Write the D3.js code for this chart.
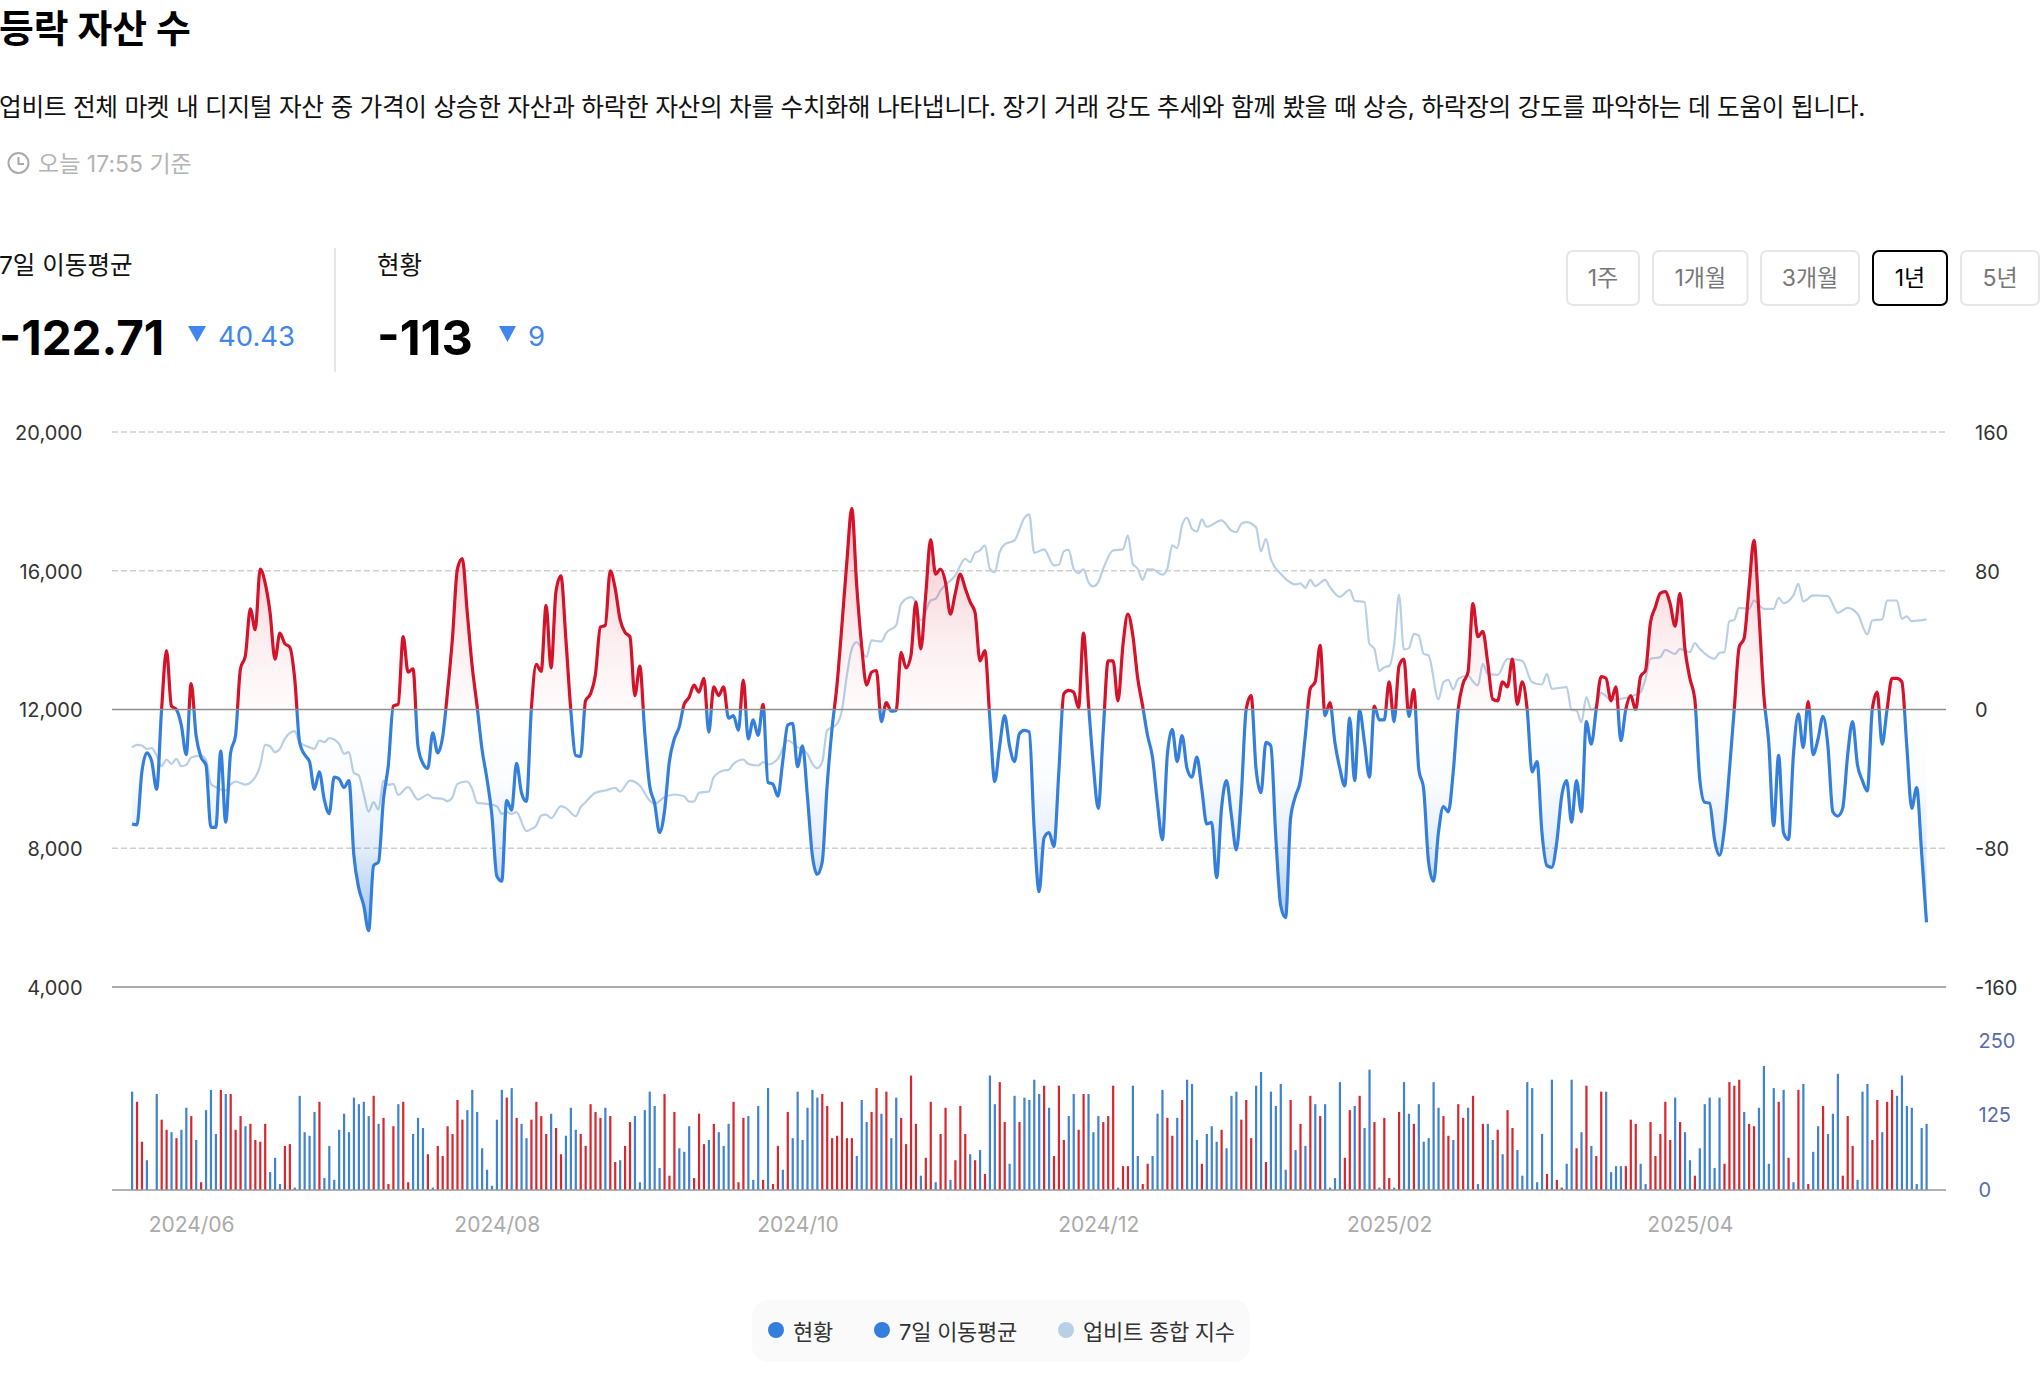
<!DOCTYPE html>
<html lang="ko">
<head>
<meta charset="utf-8">
<script src="https://cdn.jsdelivr.net/npm/d3@7"></script>
<style>
  html, body { margin: 0; padding: 0; background: #fff; }
  svg { display: block; }
  text { font-family: Inter, "Noto Sans CJK KR", sans-serif; }
  .domain { display: none; }
</style>
</head>
<body>
<div id="chart"></div>
<script>
// 7일 이동평균, one value per day
var maValues = [
-66,-66.5,-36,-25,-30,-46,0,34,2,0,-9,-26,15,-15,-27.5,-32,-68,-68,-24,-65,
-25,-15,23.5,31,58,46,81,73,56,29,44,38,36,18,-19,-26,-30,-46,-36,-52,
-60,-39,-40,-45,-41,-84,-103,-113,-127.5,-90,-88,-52,-32,2,3,42,21.5,23.5,-21,-31,
-34,-13.5,-25,-16,10,41,81,87,56,25,2,-23,-40,-61,-96,-99,-52.5,-58,-31,-48,
-53,0,26,22,60,24,68,77,41,0,-26.5,-27,5,9,20,47.5,48.5,80,70,52,
44.5,42,8,25,-13,-44,-54,-71,-59,-30,-17,-10,3,7,14,10,18,-13,13,8,
13,-5,-3.5,-12,17,-17,-6,-15,3,-42,-43,-50,-30,-9,-8,-33,-21,-50,-84,-95,
-88,-44,-11,14,48.5,85,116,71.5,37,14,21.5,22.5,-7,4,-1,-0.5,33,24,31,62,
35,66,98,78,81,73.5,55,67,78,70,62,56,28,34,-5,-41.5,-21,-3.5,-21,-30,
-14,-12,-13,-69,-105,-74,-71,-79,-36,9,11,10,1,44,4,-32,-57,-13,28,28,
5,37,55,43,18,2,-15,-27.5,-54,-75,-26.5,-11.5,-30,-15,-34,-39,-27.5,-46,-66,-65,
-97,-57,-41,-61,-81,-50,0,8,-34,-48,-19,-21,-73,-113,-120,-63,-50,-41,-15,12,
16,37,-3.5,4,-19,-34,-44,-5,-41,-0.5,-19,-39,2,-6,-6,16,-7,25,29,-4,
11.5,-34,-46,-88,-99,-71,-56,-59,-36,0,15,21.5,61,42,45,27,6,5,16,13,
29,3,16,0,-36,-30,-71,-90,-91,-76.5,-50,-41,-65,-41,-59,-7,-20,0,19,18,
5,13,-18,0,8,0,19,22.5,50,59,67,68,61,48,67,35,18,6,-40,-53.5,
-54,-75,-84,-69,-36,0,36,41,70,97.5,56,8,-19,-67,-26.5,-71,-75,-26.5,-2.5,-22,
4.6,-26,-17,-4,-21,-59,-61.5,-57,-26.5,-7,-32,-41,-47,0,10,-20,0,18,18,16,
-21,-57,-45,-82.28,-122.71
];

// 업비트 종합 지수, read at the turning points of the line
var indexDays = [
0,1,2,3,4,5,6,7,8,9,10,11,12,14,15,16,17,19,20,21,23,25,26,27,28,29,30,31,33,34,36,37,38,39,40,42,43,44,45,46,47,48,49,50,51,52,53,54,56,58,60,61,63,64,65,66,68,69,70,72,74,75,76,77,78,80,81,82,83,84,85,87,88,90,91,92,94,
96,98,99,101,103,105,106,108,110,112,113,114,115,117,118,120,121,122,124,125,127,128,129,131,133,135,137,138,139,140,141,143,144,145,146,147,149,150,152,153,155,156,158,159,160,162,163,164,167,169,170,171,172,173,174,175,176,177,179,181,182,183,185,187,188,189,190,191,192,
193,194,195,196,197,199,201,202,203,204,205,206,207,209,210,211,212,213,214,215,216,217,218,221,223,224,225,226,228,229,230,231,233,234,236,237,238,239,240,242,243,245,247,248,250,251,252,253,254,255,256,257,258,259,260,261,262,263,265,266,267,268,269,271,272,273,274,275,277,279,282,284,286,
287,288,291,292,293,294,295,296,297,298,300,302,305,306,307,308,310,311,313,314,316,317,318,321,322,323,324,325,326,328,329,331,333,334,335,337,338,339,341,344,346,348,350,352,353,355,356,358,359,360,361,364
];
var indexValues = [
10904,10981,10962,10866,10885,10673,10366,10558,10433,10577,10366,10404,10616,10673,10548,9856,9760,9664,9837,9924,9837,10049,10385,10981,10943,10770,10866,11154,11375,11058,10914,10866,11106,11058,11173,11010,10721,10770,10174,10097,9568,9058,9328,9116,9952,9827,9856,9539,9760,9404,9549,9453,9424,9356,9472,9856,9924,9712,9308,9279,9212,8991,9039,8991,9039,8491,8559,8655,8943,8972,8866,9212,9164,8924,9183,9328,9597,
9664,9741,9635,9952,9808,9376,9279,9472,9549,9501,9347,9347,9597,9635,10049,10241,10260,10433,10558,10433,10385,10481,10414,10577,11106,10914,10721,10433,10308,10481,11394,11587,11971,12981,13750,13942,13509,13990,13961,14211,14423,15047,15240,15076,14567,15143,15192,15432,15864,16345,16249,16518,16585,16730,16057,15961,16537,16758,16874,17518,17624,16518,16614,16153,16172,16557,16605,16057,15932,
16037,15672,15547,15672,16057,16585,16614,17018,16201,16057,15739,16037,16037,15884,16057,16730,16653,17306,17528,17210,17133,17479,17268,17451,17162,17114,17354,17403,17258,16557,16922,16345,15912,15768,15605,15634,15509,15739,15557,15739,15528,15249,15451,15134,15096,13894,13750,13105,13221,13250,13846,15307,13730,13769,14182,14134,13605,13557,12288,12788,12856,12577,12884,12980,12807,12692,13317,13029,13000,13461,13403,12788,12721,
13029,12596,12644,11990,11971,11635,12356,11990,12115,12481,12288,12308,12423,12500,12884,13461,13509,13721,13605,13750,13653,13913,13750,13461,13634,13653,14538,14586,14932,14903,15143,14903,14903,15220,15066,15288,15624,15114,15288,15268,14788,14932,14759,14163,14567,14596,15143,15143,14615,14682,14548,14596
];

// 거래량 막대: positive drawn red, negative drawn blue
var barValues = [
-165,148,81,-50,0,-161,118,101,-97,87,-101,-138,124,-84,13,-134,-168,-94,168,-161,
161,101,124,-107,111,84,81,111,-30,-54,-10,74,77,-4,-158,-97,-91,-131,148,-20,
-74,-17,-101,-128,-97,-155,-144,-148,-124,158,-111,121,10,107,-144,148,13,-94,-121,-104,
60,-4,74,57,107,94,151,118,-134,-168,-131,-70,-34,-7,-118,-168,155,-171,121,-111,
-87,118,148,124,94,-128,104,60,-91,-138,-101,94,74,144,131,121,-138,124,47,-50,
74,114,-124,-13,-134,-165,-141,-37,161,24,131,-70,-64,-107,20,128,77,-84,111,-97,
-74,-111,148,13,121,-124,-17,-141,17,-171,10,74,-34,131,-87,-165,-84,-138,-168,-155,
161,141,87,91,148,87,87,-57,-151,-114,131,171,-128,165,-87,-155,121,77,192,111,
-24,54,148,-13,94,138,-17,50,141,94,-60,50,-67,27,-192,-144,181,114,-44,-158,
114,-155,-151,-185,-161,175,-138,57,175,84,-124,-161,101,161,-161,-97,-124,114,124,175,
-4,40,40,-175,-57,10,44,-57,-128,-168,121,91,-121,151,-185,-178,-84,44,-94,-107,
-81,101,-70,-158,-165,118,151,87,-175,-198,47,-165,-141,-178,-34,151,-67,111,-74,158,
-144,124,-144,-4,-20,-181,54,134,-141,158,-104,-202,114,-4,
121,20,-4,131,-181,-128,111,-144,-81,-87,-181,-138,124,91,-84,144,121,-138,158,-10,
111,-111,-84,101,-60,134,104,-67,-24,-181,-171,-13,-94,27,-185,17,4,-44,-185,70,
-97,175,-74,57,165,-165,-30,-40,-40,40,118,111,-44,-10,114,57,94,148,84,-155,
114,-97,-50,24,-70,-144,-155,-37,-155,44,181,175,185,-131,111,107,-138,-208,-44,-171,
148,-168,54,-13,168,-178,10,-64,-107,141,-94,-128,-195,24,124,74,-17,-165,-178,84,
151,-97,148,168,-158,-192,-141,-138,-10,-104,-111
];

var leftTicks = [4000, 8000, 12000, 16000, 20000];
var rightTicks = [-160, -80, 0, 80, 160];
var barTicks = [0, 125, 250];
var dayTicks = [12, 74, 135, 196, 255, 316];
var dayLabels = ["2024/06", "2024/08", "2024/10", "2024/12", "2025/02", "2025/04"];
var periods = ["1주", "1개월", "3개월", "1년", "5년"];
var activePeriod = "1년";
var legendLabels = ["현황", "7일 이동평균", "업비트 종합 지수"];

var RED = "#d4122a", BLUE = "#357fdc", PALE = "#b9cfe5";

var svg = d3.select("#chart").append("svg").attr("width", 2040).attr("height", 1392);

var x = d3.scaleLinear().domain([0, 364]).range([132, 1926.5]);
var yLeft = d3.scaleLinear().domain([4000, 20000]).range([987, 432]);
var yRight = d3.scaleLinear().domain([-160, 160]).range([987, 432]);
var yBar = d3.scaleLinear().domain([0, 250]).range([1190, 1041]);

function label(sel, px, py, str, size, color, weight, anchor) {
  return sel.append("text").attr("x", px).attr("y", py).attr("dy", "0.35em")
    .attr("font-size", size).attr("fill", color).attr("font-weight", weight || 400)
    .attr("text-anchor", anchor || "start").text(str);
}

// header
label(svg, -1, 28.5, "등락 자산 수", 37.8, "#000", 700);
label(svg, -1, 107, "업비트 전체 마켓 내 디지털 자산 중 가격이 상승한 자산과 하락한 자산의 차를 수치화해 나타냅니다. 장기 거래 강도 추세와 함께 봤을 때 상승, 하락장의 강도를 파악하는 데 도움이 됩니다.", 24.7, "#111")
  .attr("letter-spacing", -0.29);
svg.append("circle").attr("cx", 18.5).attr("cy", 163).attr("r", 10).attr("fill", "none").attr("stroke", "#aaa").attr("stroke-width", 2);
svg.append("path").attr("d", "M18.5 157V164H24").attr("fill", "none").attr("stroke", "#aaa").attr("stroke-width", 2);
label(svg, 38, 164, "오늘 17:55 기준", 23, "#b4b4b4");

// summary numbers
label(svg, -1, 265, "7일 이동평균", 24.5, "#111");
label(svg, -1, 338, "-122.71", 47.5, "#000", 700);
svg.append("path").attr("d", d3.line()([[188, 326], [206, 326], [197, 342]])).attr("fill", "#3f86ee");
label(svg, 218, 336, "40.43", 27.5, "#3f86ee");
svg.append("line").attr("x1", 335).attr("x2", 335).attr("y1", 248).attr("y2", 372).attr("stroke", "#e3e6ec").attr("stroke-width", 2);
label(svg, 377, 265, "현황", 24.5, "#111");
label(svg, 377, 338, "-113", 48.5, "#000", 700);
svg.append("path").attr("d", d3.line()([[499, 326], [516, 326], [507.5, 342]])).attr("fill", "#3f86ee");
label(svg, 528, 336, "9", 27.5, "#3f86ee");

// period buttons
var buttonX = d3.scaleOrdinal().domain(periods).range([[1567, 72], [1653, 94.5], [1761, 98], [1873, 74], [1961, 78]]);
var buttons = svg.append("g").selectAll("g").data(periods).join("g");
buttons.append("rect")
  .attr("x", d => buttonX(d)[0]).attr("y", 251).attr("width", d => buttonX(d)[1]).attr("height", 54).attr("rx", 6)
  .attr("fill", "#fff").attr("stroke", d => d === activePeriod ? "#000" : "#e6e6e6").attr("stroke-width", 2);
buttons.append("text")
  .attr("x", d => buttonX(d)[0] + buttonX(d)[1] / 2).attr("y", 278).attr("dy", "0.35em").attr("text-anchor", "middle")
  .attr("font-size", 23).attr("fill", d => d === activePeriod ? "#000" : "#777").text(d => d);

// gridlines
svg.append("g").selectAll("line").data(rightTicks.filter(d => d !== 0 && d !== -160)).join("line")
  .attr("x1", 112).attr("x2", 1946).attr("y1", d => yRight(d)).attr("y2", d => yRight(d))
  .attr("stroke", "#cfcfcf").attr("stroke-width", 1.4).attr("stroke-dasharray", "6 3");

// axes
var axisLeft = svg.append("g").attr("transform", "translate(85.5,1)")
  .call(d3.axisLeft(yLeft).tickValues(leftTicks).tickSize(0).tickFormat(d3.format(",")));
var axisRight = svg.append("g").attr("transform", "translate(1972,1)")
  .call(d3.axisRight(yRight).tickValues(rightTicks).tickSize(0).tickFormat(d => String(d)));
var axisBar = svg.append("g").attr("transform", "translate(1975.5,0)")
  .call(d3.axisRight(yBar).tickValues(barTicks).tickSize(0));
var axisX = svg.append("g").attr("transform", "translate(0,1214)")
  .call(d3.axisBottom(x).tickValues(dayTicks).tickSize(0).tickFormat((d, i) => dayLabels[i]));
axisLeft.selectAll("text").attr("font-size", 20).attr("fill", "#333");
axisRight.selectAll("text").attr("font-size", 20).attr("fill", "#333");
axisBar.selectAll("text").attr("font-size", 20).attr("fill", "#5a6bad");
axisX.selectAll("text").attr("font-size", 21).attr("fill", "#aaa");
svg.selectAll(".tick line").remove();

// gradients split at the zero line
var defs = svg.append("defs");
var top_ = yRight(160), bottom_ = yRight(-160);
function offset(v) { return (yRight(v) - top_) / (bottom_ - top_); }

var strokeGrad = defs.append("linearGradient").attr("id", "maStroke").attr("gradientUnits", "userSpaceOnUse")
  .attr("x1", 0).attr("x2", 0).attr("y1", top_).attr("y2", bottom_);
[[0, RED], [offset(0), RED], [offset(0), BLUE], [1, BLUE]].forEach(s => {
  strokeGrad.append("stop").attr("offset", s[0]).attr("stop-color", s[1]);
});

var fillGrad = defs.append("linearGradient").attr("id", "maFill").attr("gradientUnits", "userSpaceOnUse")
  .attr("x1", 0).attr("x2", 0).attr("y1", top_).attr("y2", bottom_);
[[120, RED, 0.3], [80, RED, 0.17], [40, RED, 0.07], [0, RED, 0.015],
 [0, BLUE, 0], [-40, BLUE, 0.02], [-80, BLUE, 0.14], [-130, BLUE, 0.48]].forEach(s => {
  fillGrad.append("stop").attr("offset", offset(s[0])).attr("stop-color", s[1]).attr("stop-opacity", s[2]);
});

// index line
var indexLine = d3.line().x((d, i) => x(indexDays[i])).y(d => yLeft(d)).curve(d3.curveMonotoneX);
svg.append("path").attr("d", indexLine(indexValues)).attr("fill", "none").attr("stroke", PALE).attr("stroke-width", 2.2);

// moving average area and line
var maArea = d3.area().x((d, i) => x(i)).y0(yRight(0)).y1(d => yRight(d)).curve(d3.curveMonotoneX);
var maLine = d3.line().x((d, i) => x(i)).y(d => yRight(d)).curve(d3.curveMonotoneX);
svg.append("path").attr("d", maArea(maValues)).attr("fill", "url(#maFill)");
svg.append("path").attr("d", maLine(maValues)).attr("fill", "none").attr("stroke", "url(#maStroke)").attr("stroke-width", 3.2);

// solid rules on top of the lines
svg.append("g").selectAll("line").data([0, -160]).join("line")
  .attr("x1", 112).attr("x2", 1946).attr("y1", d => yRight(d)).attr("y2", d => yRight(d))
  .attr("stroke", "#8e8e8e").attr("stroke-width", 1.6);

// bars
svg.append("g").selectAll("rect").data(barValues).join("rect")
  .attr("x", (d, i) => x(i) - 1).attr("width", 2.2)
  .attr("y", d => yBar(Math.abs(d))).attr("height", d => yBar(0) - yBar(Math.abs(d)))
  .attr("fill", d => d > 0 ? "#d8262f" : "#3f82d0");
svg.append("line").attr("x1", 112).attr("x2", 1946).attr("y1", yBar(0)).attr("y2", yBar(0)).attr("stroke", "#999").attr("stroke-width", 1.5);

// legend
svg.append("rect").attr("x", 752).attr("y", 1300).attr("width", 498).attr("height", 62).attr("rx", 16).attr("fill", "#fafafa");
var legendDots = [776, 882, 1066], legendText = [793, 899, 1083], legendColors = [BLUE, BLUE, PALE];
legendLabels.forEach((t, i) => {
  svg.append("circle").attr("cx", legendDots[i]).attr("cy", 1330).attr("r", 8).attr("fill", legendColors[i]);
  label(svg, legendText[i], 1332, t, 22, "#333").attr("letter-spacing", -0.25);
});
</script>
</body>
</html>
